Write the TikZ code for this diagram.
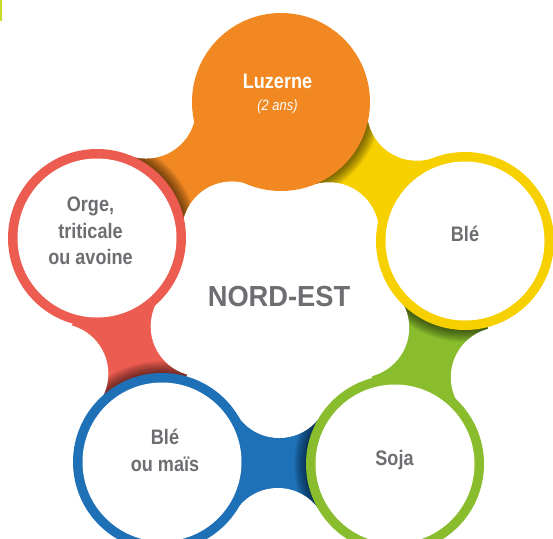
\documentclass[tikz,border=0pt]{standalone}
\usepackage{fontspec}
\setmainfont{Liberation Sans}
\newfontfamily\condf[FakeStretch=0.86]{Liberation Sans}
\newfontfamily\dinf[FakeStretch=0.94]{Liberation Sans}
\usetikzlibrary{calc}
\definecolor{cOr}{HTML}{F18822}
\definecolor{cYe}{HTML}{F7D000}
\definecolor{cGr}{HTML}{89BD2D}
\definecolor{cBl}{HTML}{1E70B7}
\definecolor{cRe}{HTML}{EC5C50}
\definecolor{cTx}{HTML}{6D6E71}
\definecolor{cLi}{HTML}{C9DB2A}
\newcommand\gapband[3]{%
  \coordinate (M) at ($(#1)!.5!(#2)$);
  \coordinate (Pi) at ($(M)!75pt!(C)$);
  \coordinate (Po) at ($(M)!-75pt!(C)$);
  \fill[#3] (#1) -- (Pi) -- (#2) -- (Po) -- cycle;
  \begin{scope}
    \clip (#1) -- (Pi) -- (#2) -- (Po) -- cycle;
    \foreach \k in {1,...,12} \fill[black,opacity=.05] (#2) circle[radius={(89+\k)*1pt}];
  \end{scope}}
\newcommand\gapcut[2]{%
  \coordinate (M) at ($(#1)!.5!(#2)$);
  \coordinate (Pi) at ($(M)!75pt!(C)$);
  \coordinate (Po) at ($(M)!-75pt!(C)$);
  \fill[white] (Pi) circle[radius=50pt];
  \fill[white] (Po) circle[radius=50pt];}
\begin{document}
\begin{tikzpicture}[x=1pt,y=-1pt,
  txt/.style={text=cTx,align=center,inner sep=0pt},
  cfont/.style={font=\condf\bfseries\fontsize{21}{26.5}\selectfont}]
\useasboundingbox (0,0) rectangle (553,538);
\fill[white] (0,0) rectangle (553,538);
\fill[cLi] (0,0) rectangle (2.2,21);
\coordinate (C) at (280,300);
\coordinate (O) at (281,102);
\coordinate (Y) at (465,241);
\coordinate (G) at (395,464);
\coordinate (B) at (162,462);
\coordinate (R) at (97,238);
\gapband{Y}{O}{cYe}
\gapband{O}{R}{cOr}
\gapband{R}{B}{cRe}
\gapband{B}{G}{cBl}
\gapband{G}{Y}{cGr}
\gapcut{Y}{O}
\gapcut{O}{R}
\gapcut{R}{B}
\gapcut{B}{G}
\gapcut{G}{Y}
\fill[cOr] (O) circle[radius=89pt];
\foreach \p/\c in {Y/cYe,G/cGr,B/cBl,R/cRe}{
  \fill[\c] (\p) circle[radius=89pt];
  \fill[white] (\p) circle[radius=79.5pt];}
\node[txt,text=white,font=\condf\fontsize{21}{21}\selectfont] (luz) at (277.5,94) {{\bfseries Luzerne}\\[1pt]{\itshape\fontsize{15}{15}\selectfont (2 ans)}};
\node[txt,cfont] (orge) at (90.5,231) {Orge,\\triticale\\ou avoine};
\node[txt,cfont,anchor=base] (ble) at (465,241) {Blé};
\node[txt,cfont,anchor=base] (soja) at (394.5,465) {Soja};
\node[txt,cfont] (blem) at (165,450.5) {Blé\\ou maïs};
\node[txt,font=\dinf\bfseries\fontsize{29}{30}\selectfont] (ne) at (279,297) {NORD-EST};
\end{tikzpicture}
\end{document}
